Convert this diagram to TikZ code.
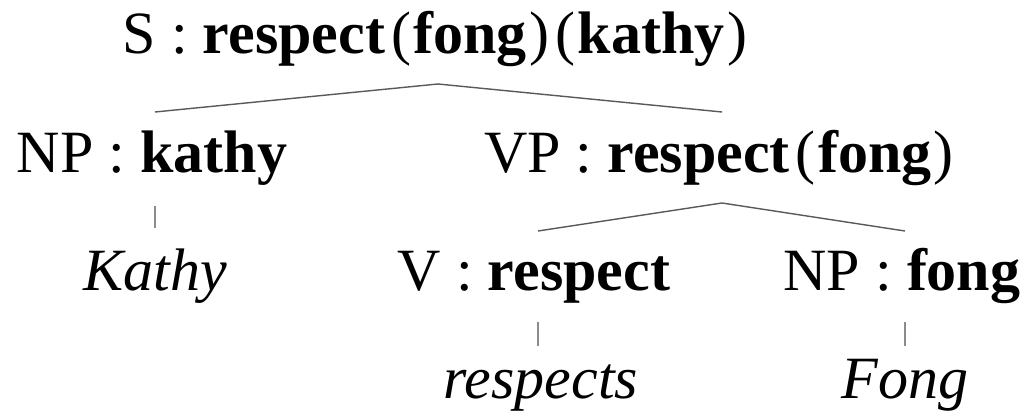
\documentclass[tikz,border=0pt]{standalone}
\usepackage{fontspec}
\setmainfont{Liberation Serif}
% bracketed argument of a meaning, with light parentheses and some air around them
\newcommand\fnarg[1]{\kern6pt(\kern2.5pt\textbf{#1}\kern2.5pt)}
\begin{document}
\begin{tikzpicture}[x=1pt,y=-1pt,
  lbl/.style={anchor=base, inner sep=0pt, font=\fontsize{60}{70}\selectfont},
  branch/.style={draw=black!65, line width=1.4pt},
  leafbar/.style={draw=black!45, line width=1.4pt}]
\useasboundingbox (0,0) rectangle (1026,417);

% category labels with their meanings
\node[lbl] (S)   at (435,54)  {S : \textbf{respect}\fnarg{fong}\fnarg{kathy}};
\node[lbl] (NPk) at (152,172) {NP : \textbf{kathy}};
\node[lbl] (VP)  at (719,172) {VP : \textbf{respect}\fnarg{fong}};
\node[lbl] (V)   at (534,290) {V : \textbf{respect}};
\node[lbl] (NPf) at (902,290) {NP : \textbf{fong}};

% words
\node[lbl] (wk) at (155,290) {\itshape Kathy};
\node[lbl] (wr) at (541,398) {\itshape respects};
\node[lbl] (wf) at (905,398) {\itshape Fong};

% branch points
\coordinate (S-top)   at (438,84);
\coordinate (NPk-bot) at (155,112);
\coordinate (VP-bot)  at (722,112);
\coordinate (VP-top)  at (722,203);
\coordinate (V-bot)   at (538,231);
\coordinate (NPf-bot) at (905,231);
\coordinate (NPk-a) at (155,206);
\coordinate (NPk-b) at (155,228);
\coordinate (V-a)   at (538,322);
\coordinate (V-b)   at (538,346);
\coordinate (NPf-a) at (905,322);
\coordinate (NPf-b) at (905,346);

\draw[branch] (NPk-bot) -- (S-top) -- (VP-bot);
\draw[branch] (V-bot) -- (VP-top) -- (NPf-bot);
\draw[leafbar] (NPk-a) -- (NPk-b);
\draw[leafbar] (V-a) -- (V-b);
\draw[leafbar] (NPf-a) -- (NPf-b);
\end{tikzpicture}
\end{document}
